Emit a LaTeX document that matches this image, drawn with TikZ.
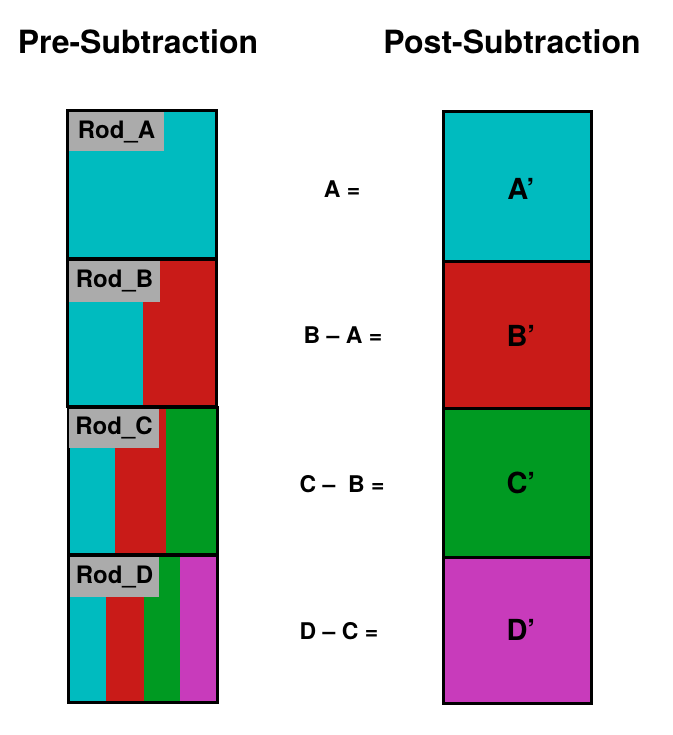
\documentclass[tikz,border=0pt]{standalone}
\usepackage{fontspec}
\setmainfont{TeX Gyre Heros}
\definecolor{rcyan}{RGB}{0,187,191}
\definecolor{rred}{RGB}{201,27,24}
\definecolor{rgreen}{RGB}{0,154,34}
\definecolor{rmag}{RGB}{200,59,187}
\definecolor{rgrey}{RGB}{171,171,171}
\tikzset{
  rodframe/.style={draw=black, line width=3pt},
  rodlabel/.style={fill=rgrey, inner sep=0pt, font=\bfseries\fontsize{24}{24}\selectfont, anchor=center},
  eqlabel/.style={font=\bfseries\fontsize{23}{23}\selectfont, anchor=center},
  primelabel/.style={font=\bfseries\fontsize{29}{29}\selectfont, anchor=center},
  titlelabel/.style={font=\bfseries\fontsize{32}{32}\selectfont, anchor=center}
}
\begin{document}
\begin{tikzpicture}[x=1pt,y=-1pt]
\useasboundingbox (0,0) rectangle (672,735);
% titles
\node[titlelabel] (t1) at (138,42) {Pre-Subtraction};
\node[titlelabel] (t2) at (512,42) {Post-Subtraction};
% Rod A
\fill[rcyan] (68,112) rectangle (215,257);
\draw[rodframe] (67,111) rectangle (216,258);
\node[rodlabel, minimum width=95pt, minimum height=39pt] (la) at (116.5,132) {Rod\_A};
% Rod B
\fill[rcyan] (68,260) rectangle (143,405);
\fill[rred] (143,260) rectangle (215,405);
\draw[rodframe] (67,259) rectangle (216,406);
\node[rodlabel, minimum width=91pt, minimum height=41pt] (lb) at (114.5,281) {Rod\_B};
% Rod C
\fill[rcyan] (69,408) rectangle (115,553);
\fill[rred] (115,408) rectangle (166,553);
\fill[rgreen] (166,408) rectangle (216,553);
\draw[rodframe] (68,407) rectangle (217,554);
\node[rodlabel, minimum width=90pt, minimum height=39pt] (lc) at (114,428) {Rod\_C};
% Rod D
\fill[rcyan] (69,556) rectangle (106,701);
\fill[rred] (106,556) rectangle (144,701);
\fill[rgreen] (144,556) rectangle (180,701);
\fill[rmag] (180,556) rectangle (216,701);
\draw[rodframe] (68,555) rectangle (217,702);
\node[rodlabel, minimum width=89pt, minimum height=40pt] (ld) at (114.5,577) {Rod\_D};
% equations
\node[eqlabel] (ea) at (342,189) {A =};
\node[eqlabel] (eb) at (343,335) {B – A =};
\node[eqlabel] (ec) at (342,484) {C –\ \ B =};
\node[eqlabel] (ed) at (339,631) {D – C =};
% right column
\fill[rcyan] (443,112) rectangle (591,261);
\fill[rred] (443,261) rectangle (591,408);
\fill[rgreen] (443,408) rectangle (591,557);
\fill[rmag] (443,557) rectangle (591,703);
\draw[rodframe] (443,112) rectangle (591,261);
\draw[rodframe] (443,261) rectangle (591,408);
\draw[rodframe] (443,408) rectangle (591,557);
\draw[rodframe] (443,557) rectangle (591,703);
\node[primelabel] (pa) at (521,189) {A’};
\node[primelabel] (pb) at (521,336) {B’};
\node[primelabel] (pc) at (521,483) {C’};
\node[primelabel] (pd) at (521,630) {D’};
\end{tikzpicture}
\end{document}
